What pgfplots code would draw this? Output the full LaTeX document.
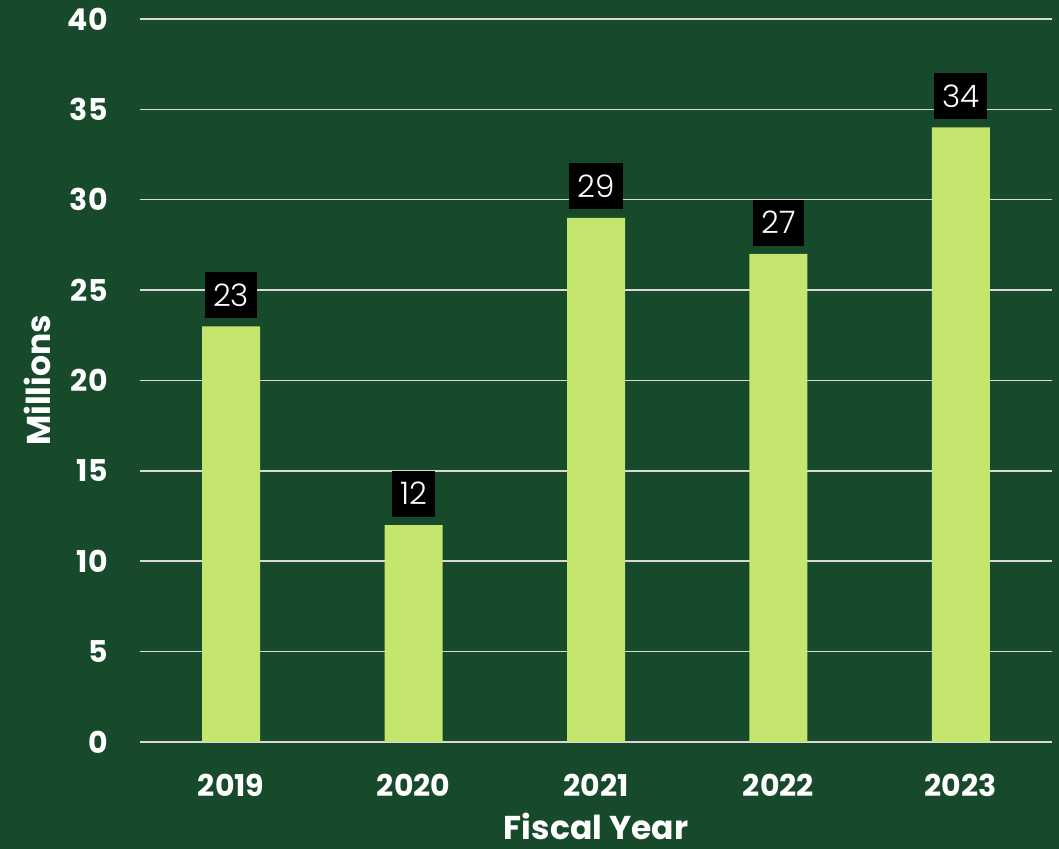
\documentclass[border=0pt]{standalone}
\usepackage{fontspec}
\setmainfont{Poppins}
\newfontfamily\lightfont{Poppins Light}
\usepackage{pgfplots}
\pgfplotsset{compat=1.18}

\definecolor{bg}{HTML}{17492B}
\definecolor{bar}{HTML}{C5E66E}
\definecolor{grid}{HTML}{D9D9D9}

\begin{document}
\begin{tikzpicture}
	\path[use as bounding box] (0,0) rectangle (529.5pt,424.5pt);
	\fill[bg] (0,0) rectangle (529.5pt,424.5pt);
	\begin{axis}[
		at={(70pt,53.5pt)}, anchor=south west,
		scale only axis,
		width=456pt, height=361.5pt,
		ybar, bar width=29pt,
		xmin=-0.5, xmax=4.5,
		ymin=0, ymax=40,
		xtick=data,
		xticklabels={2019,2020,2021,2022,2023},
		ytick={0,5,...,40},
		axis line style={draw=none},
		major tick length=0pt,
		ymajorgrids,
		major grid style={color=grid, line width=0.75pt},
		/pgf/number format/assume math mode=true,
		ticklabel style={font=\fontsize{15}{18}\selectfont\bfseries, text=white, inner sep=0pt},
		xticklabel style={anchor=center, yshift=-21.5pt},
		yticklabel style={anchor=east, xshift=-16pt},
		xlabel={Fiscal Year},
		ylabel={Millions},
		every axis x label/.style={at={(axis description cs:0.5,-0.117)}, anchor=center,
			font=\fontsize{16.5}{19}\selectfont\bfseries, text=white},
		every axis y label/.style={at={(axis description cs:-0.112,0.5)}, anchor=center, rotate=90,
			font=\fontsize{16.5}{19}\selectfont\bfseries, text=white},
		nodes near coords,
		nodes near coords style={fill=black, text=white, anchor=south, yshift=4pt,
			inner xsep=4pt, inner ysep=0pt, minimum height=23pt,
			font=\fontsize{15.5}{18}\lightfont},
		clip=false,
	]
	\addplot[fill=bar, draw=none] coordinates {
		(0,23) (1,12) (2,29) (3,27) (4,34)
	};
	\end{axis}
\end{tikzpicture}
\end{document}
